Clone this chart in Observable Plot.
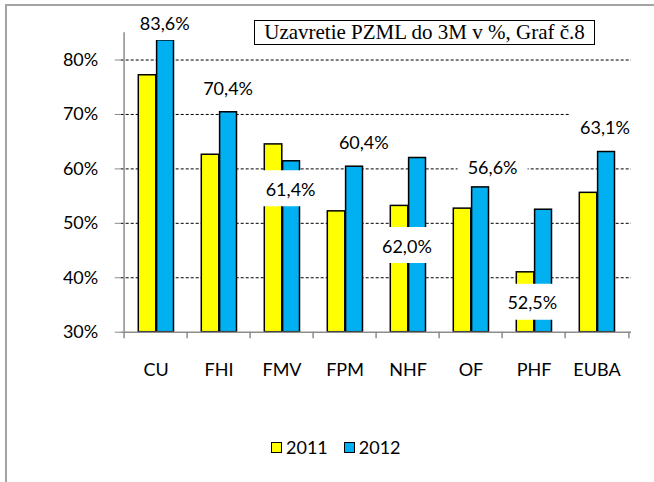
<!DOCTYPE html>
<html>
<head>
<meta charset="utf-8">
<script src="https://cdn.jsdelivr.net/npm/d3@7"></script>
<script src="https://cdn.jsdelivr.net/npm/@observablehq/plot@0.6"></script>
<style>
  html, body { margin: 0; padding: 0; background: #fff; overflow: hidden; }
  #wrap { position: relative; width: 654px; height: 482px; }
  #border { position: absolute; left: 5px; top: 4px; width: 700px; height: 600px;
            border-left: 2px solid #a3a3a3; border-top: 2px solid #a3a3a3; pointer-events: none; }
  #title { position: absolute; left: 254px; top: 20px; width: 339px; height: 23px;
           border: 1.3px solid #000; background: #fff; font-family: "Liberation Serif", "Times New Roman", serif;
           font-size: 21px; line-height: 23px; text-align: center; color: #000; white-space: nowrap; }
  #legend { position: absolute; left: 271px; top: 436px; font-family: Lato, sans-serif; font-size: 18px;
            display: flex; align-items: center; color: #000; }
  .sw { display: inline-block; width: 9px; height: 9px; border: 1.6px solid #000; margin-right: 4px; }
  .item { display: flex; align-items: center; margin-right: 16px; line-height: 22px; }
</style>
</head>
<body>
<div id="wrap"></div>
<script>
// ---- data ----
const categories = ["CU", "FHI", "FMV", "FPM", "NHF", "OF", "PHF", "EUBA"];
const years = ["2011", "2012"];
const values2011 = [77.2, 62.6, 64.5, 52.2, 53.2, 52.7, 41.0, 55.6];
const values2012 = [83.6, 70.4, 61.4, 60.4, 62.0, 56.6, 52.5, 63.1];
const yTicks = [30, 40, 50, 60, 70, 80];
const gridTicks = [40, 50, 60, 70, 80];
const titleText = "Uzavretie PZML do 3M v %, Graf č.8";

// ---- styling ----
const colors = {"2011": "#FFFF00", "2012": "#00B0F0"};
const axisGray = "#8c8c8c";
const yMin = 30, yMax = 85;
const halfBand = 31.9;
// label nudges in px (relative to band centre / bar top), as placed in the original
const labelNudge = [[8.7, -16.4], [9.1, -23], [8.6, 29], [18.8, -23], [-1.1, 89], [21.6, -19], [-1.7, 94], [8, -23.6]];

const rows2011 = categories.map((c, i) => ({cat: c, year: years[0], v: values2011[i]}));
const rows2012 = categories.map((c, i) => ({cat: c, year: years[1], v: values2012[i]}));
const fmt = v => v.toFixed(1).replace(".", ",") + "%";

const boxSymbol = {
  draw(ctx) {
    ctx.moveTo(-35, -18); ctx.lineTo(35, -18); ctx.lineTo(35, 18); ctx.lineTo(-35, 18); ctx.closePath();
  }
};

const labelMarks = rows2012.flatMap((d, i) => [
  Plot.dot([d], {x: "cat", y: "v", dx: labelNudge[i][0], dy: labelNudge[i][1] - 2, symbol: boxSymbol, fill: "white", stroke: "none"}),
  Plot.text([d], {x: "cat", y: "v", dx: labelNudge[i][0], dy: labelNudge[i][1], text: d => fmt(d.v), fill: "#000", fontSize: 18})
]);

const chart = Plot.plot({
  width: 654,
  height: 482,
  marginLeft: 120.7,
  marginRight: 23,
  marginTop: 32.3,
  marginBottom: 150.3,
  style: {fontFamily: "Lato, sans-serif", fontSize: "18px", background: "transparent", color: "#000"},
  x: {type: "band", domain: categories, padding: 0, axis: null},
  y: {domain: [yMin, yMax], axis: null},
  marks: [
    Plot.ruleY(gridTicks, {stroke: "#000", strokeDasharray: "3,2", strokeWidth: 1}),
    Plot.barY(rows2011, {x: "cat", y1: yMin, y2: "v", fill: colors["2011"], stroke: "#000", strokeWidth: 1.5, insetLeft: 14.3, insetRight: 31.2}),
    Plot.barY(rows2012, {x: "cat", y1: yMin, y2: "v", fill: colors["2012"], stroke: "#000", strokeWidth: 1.5, insetLeft: 32.6, insetRight: 13.5}),
    ...labelMarks,
    Plot.ruleY([yMin], {stroke: axisGray, strokeWidth: 1.5}),
    Plot.ruleX([categories[0]], {x: d => d, dx: -halfBand, y1: yMin, y2: yMax, stroke: axisGray, strokeWidth: 1.5}),
    Plot.ruleX(categories, {x: d => d, dx: -halfBand, y1: yMin, y2: yMin - 1.2, stroke: axisGray, strokeWidth: 1.5}),
    Plot.ruleX([categories[categories.length - 1]], {x: d => d, dx: halfBand, y1: yMin, y2: yMin - 1.2, stroke: axisGray, strokeWidth: 1.5}),
    Plot.axisY({ticks: yTicks, tickFormat: d => d + "%", tickSize: 6, tickPadding: 17, stroke: axisGray, fill: "#000", label: null}),
    Plot.axisX({tickSize: 0, tickPadding: 31, fill: "#000", label: null})
  ]
});

const wrap = document.getElementById("wrap");
wrap.appendChild(chart);

const title = document.createElement("div");
title.id = "title";
title.textContent = titleText;
wrap.appendChild(title);

const legend = document.createElement("div");
legend.id = "legend";
years.forEach(y => {
  const item = document.createElement("span");
  item.className = "item";
  const sw = document.createElement("span");
  sw.className = "sw";
  sw.style.background = colors[y];
  item.appendChild(sw);
  item.appendChild(document.createTextNode(y));
  legend.appendChild(item);
});
wrap.appendChild(legend);

const border = document.createElement("div");
border.id = "border";
wrap.appendChild(border);
</script>
</body>
</html>
